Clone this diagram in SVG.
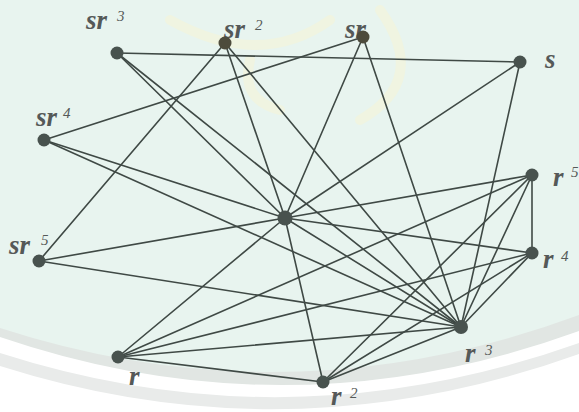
<svg xmlns="http://www.w3.org/2000/svg" width="579" height="412" viewBox="0 0 579 412">
<style>
.edge{stroke:#3f4945;stroke-width:1.6;fill:none;stroke-linecap:round}
.node{fill:#48524e}
.lb{font-family:"Liberation Serif","Times New Roman",serif;font-style:italic;font-weight:bold;font-size:27px;fill:#555958}
.sup{font-family:"Liberation Serif","Times New Roman",serif;font-style:italic;font-size:15px;fill:#555958}
</style>
<g id="background">
<rect x="0" y="0" width="579" height="412" fill="#e8f4ef"/>
<path d="M0,328 Q290,422 579,315 L579,412 L0,412 Z" fill="#e1e6e3"/>
<path d="M0,337 Q290,436 579,331 L579,412 L0,412 Z" fill="#ffffff"/>
<path d="M0,353 Q290,446 579,343 L579,412 L0,412 Z" fill="#e9ebea"/>
<path d="M0,366 Q290,458 579,354 L579,412 L0,412 Z" fill="#ffffff"/>
<g fill="none" stroke="#f6f4d8" stroke-width="10" stroke-linecap="round" opacity="0.6">
<path d="M170,20 Q260,70 330,20"/>
<path d="M380,10 Q430,80 360,120"/>
<path d="M250,60 Q240,100 280,110"/>
</g>
</g>
<g id="connectors">
<line class="edge" x1="285" y1="218" x2="118" y2="357"/>
<line class="edge" x1="285" y1="218" x2="323" y2="382"/>
<line class="edge" x1="285" y1="218" x2="461" y2="327"/>
<line class="edge" x1="285" y1="218" x2="532" y2="253"/>
<line class="edge" x1="285" y1="218" x2="532" y2="175"/>
<line class="edge" x1="285" y1="218" x2="520" y2="62"/>
<line class="edge" x1="285" y1="218" x2="363" y2="37"/>
<line class="edge" x1="285" y1="218" x2="225" y2="43"/>
<line class="edge" x1="285" y1="218" x2="117" y2="53"/>
<line class="edge" x1="285" y1="218" x2="44" y2="140"/>
<line class="edge" x1="285" y1="218" x2="39" y2="261"/>
<line class="edge" x1="461" y1="327" x2="118" y2="357"/>
<line class="edge" x1="461" y1="327" x2="323" y2="382"/>
<line class="edge" x1="461" y1="327" x2="532" y2="253"/>
<line class="edge" x1="461" y1="327" x2="532" y2="175"/>
<line class="edge" x1="461" y1="327" x2="520" y2="62"/>
<line class="edge" x1="461" y1="327" x2="363" y2="37"/>
<line class="edge" x1="461" y1="327" x2="225" y2="43"/>
<line class="edge" x1="461" y1="327" x2="117" y2="53"/>
<line class="edge" x1="461" y1="327" x2="44" y2="140"/>
<line class="edge" x1="461" y1="327" x2="39" y2="261"/>
<line class="edge" x1="118" y1="357" x2="323" y2="382"/>
<line class="edge" x1="118" y1="357" x2="532" y2="253"/>
<line class="edge" x1="118" y1="357" x2="532" y2="175"/>
<line class="edge" x1="323" y1="382" x2="532" y2="253"/>
<line class="edge" x1="323" y1="382" x2="532" y2="175"/>
<line class="edge" x1="532" y1="253" x2="532" y2="175"/>
<line class="edge" x1="520" y1="62" x2="117" y2="53"/>
<line class="edge" x1="363" y1="37" x2="44" y2="140"/>
<line class="edge" x1="225" y1="43" x2="39" y2="261"/>
</g>
<g id="e"><circle class="node" cx="285" cy="218" r="7.5"/></g>
<g id="r"><text class="lb" x="129" y="385">r</text><circle class="node" cx="118" cy="357" r="6.5"/></g>
<g id="r2"><text class="lb" x="331" y="405">r</text><text class="sup" x="350" y="398">2</text><circle class="node" cx="323" cy="382" r="6.5"/></g>
<g id="r3"><text class="lb" x="465" y="362">r</text><text class="sup" x="485" y="355">3</text><circle class="node" cx="461" cy="327" r="7"/></g>
<g id="r4"><text class="lb" x="543" y="268">r</text><text class="sup" x="561" y="261">4</text><circle class="node" cx="532" cy="253" r="6.5"/></g>
<g id="r5"><text class="lb" x="553" y="186">r</text><text class="sup" x="571" y="177">5</text><circle class="node" cx="532" cy="175" r="6.5"/></g>
<g id="s"><text class="lb" x="545" y="68">s</text><circle class="node" cx="520" cy="62" r="6.5"/></g>
<g id="sr"><text class="lb" x="345" y="38">sr</text><circle class="node" cx="363" cy="37" r="6.5" style="fill:#4d4b3c"/></g>
<g id="sr2"><text class="lb" x="224" y="38">sr</text><text class="sup" x="255" y="30">2</text><circle class="node" cx="225" cy="43" r="6.5" style="fill:#4d4b3c"/></g>
<g id="sr3"><text class="lb" x="86" y="29">sr</text><text class="sup" x="117" y="21">3</text><circle class="node" cx="117" cy="53" r="6.5"/></g>
<g id="sr4"><text class="lb" x="36" y="126">sr</text><text class="sup" x="63" y="118">4</text><circle class="node" cx="44" cy="140" r="6.5"/></g>
<g id="sr5"><text class="lb" x="9" y="254">sr</text><text class="sup" x="41" y="245">5</text><circle class="node" cx="39" cy="261" r="6.5"/></g>
</svg>
